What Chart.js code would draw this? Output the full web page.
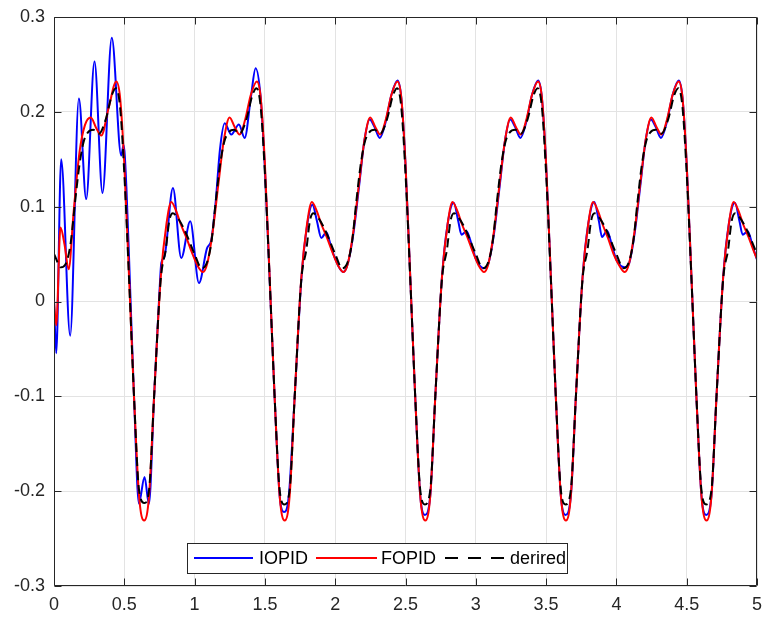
<!DOCTYPE html>
<html><head><meta charset="utf-8">
<script src="https://cdn.jsdelivr.net/npm/chart.js@4.4.1/dist/chart.umd.min.js"></script>
<style>html,body{margin:0;padding:0;background:#fff;}canvas{display:block;}</style>
</head><body>
<canvas id="c" width="764" height="619"></canvas>
<script>
const xTickValues = [0,0.5,1,1.5,2,2.5,3,3.5,4,4.5,5];
const xTickLabels = ['0','0.5','1','1.5','2','2.5','3','3.5','4','4.5','5'];
const yTickValues = [-0.3,-0.2,-0.1,0,0.1,0.2,0.3];
const yTickLabels = ['-0.3','-0.2','-0.1','0','0.1','0.2','0.3'];
const seriesNames = ['IOPID','FOPID','derired'];

// IOPID (blue)
const iopidX = [0,0.016,0.051,0.115,0.177,0.229,0.288,0.345,0.411,0.478,0.495,0.515,0.54,0.569,0.604,0.644,0.675,0.712,0.75,0.763,0.786,0.846,0.905,0.969,1.031,1.088,1.119,1.15,1.18,1.214,1.261,1.315,1.356,1.40,1.434,1.47,1.50,1.534,1.569,1.605,1.635,1.67,1.712,1.759,1.80,1.838,1.87,1.901,1.937,1.97,2.00,2.056,
 2.09,2.13,2.17,2.21,2.245,2.28,2.317,2.36,2.40,2.443,2.47,2.50,2.534,2.569,2.605,2.638,2.676,2.712,2.759,2.80,2.843,2.875,2.898,2.934,2.97,3.00,3.06,
 3.09,3.13,3.17,3.21,3.245,3.28,3.317,3.36,3.40,3.443,3.47,3.50,3.534,3.569,3.605,3.638,3.676,3.712,3.759,3.80,3.843,3.875,3.898,3.934,3.97,4.00,4.06,
 4.09,4.13,4.17,4.21,4.245,4.28,4.317,4.36,4.40,4.443,4.47,4.50,4.534,4.569,4.605,4.638,4.676,4.712,4.759,4.80,4.843,4.875,4.898,4.934,4.97,5.00];
const iopidY = [0,-0.0545,0.150,-0.036,0.214,0.108,0.253,0.1145,0.278,0.154,0.165,0.12,0.02,-0.100,-0.213,-0.185,-0.2135,-0.100,0.010,0.0405,0.0475,0.1197,0.0458,0.0845,0.0194,0.056,0.065,0.105,0.160,0.188,0.176,0.1866,0.1725,0.215,0.246,0.215,0.14,0.023,-0.100,-0.205,-0.222,-0.205,-0.100,0.023,0.080,0.102,0.085,0.067,0.073,0.058,0.045,0.031,
 0.040,0.072,0.122,0.172,0.192,0.184,0.1725,0.190,0.218,0.233,0.215,0.145,0.025,-0.100,-0.205,-0.225,-0.205,-0.100,0.025,0.082,0.104,0.085,0.0705,0.074,0.060,0.045,0.035,
 0.040,0.072,0.122,0.172,0.192,0.184,0.1725,0.190,0.218,0.233,0.215,0.145,0.025,-0.100,-0.205,-0.225,-0.205,-0.100,0.025,0.082,0.105,0.085,0.068,0.0747,0.058,0.044,0.036,
 0.040,0.072,0.122,0.172,0.192,0.184,0.1725,0.190,0.218,0.233,0.215,0.145,0.025,-0.100,-0.205,-0.225,-0.205,-0.100,0.025,0.082,0.104,0.085,0.0705,0.074,0.058,0.044];

// FOPID (red)
const fopidX = [0,0.016,0.046,0.075,0.104,0.14,0.181,0.22,0.262,0.30,0.336,0.39,0.443,0.47,0.50,0.534,0.569,0.605,0.641,0.676,0.712,0.759,0.80,0.834,0.87,0.90,0.94,0.98,
 1.02,1.059,1.09,1.13,1.17,1.21,1.249,1.285,1.32,1.36,1.40,1.443,1.47,1.50,1.534,1.569,1.605,1.641,1.676,1.712,1.759,1.80,1.834,1.87,1.90,1.94,1.98,
 2.02,2.059,2.09,2.13,2.17,2.21,2.249,2.285,2.32,2.36,2.40,2.443,2.47,2.50,2.534,2.569,2.605,2.641,2.676,2.712,2.759,2.80,2.834,2.87,2.90,2.94,2.98,
 3.02,3.059,3.09,3.13,3.17,3.21,3.249,3.285,3.32,3.36,3.40,3.443,3.47,3.50,3.534,3.569,3.605,3.641,3.676,3.712,3.759,3.80,3.834,3.87,3.90,3.94,3.98,
 4.02,4.059,4.09,4.13,4.17,4.21,4.249,4.285,4.32,4.36,4.40,4.443,4.47,4.50,4.534,4.569,4.605,4.641,4.676,4.712,4.759,4.80,4.834,4.87,4.90,4.94,4.98,5.00];
const fopidY = [0,-0.025,0.078,0.060,0.034,0.095,0.157,0.186,0.194,0.183,0.175,0.205,0.232,0.215,0.145,0.025,-0.100,-0.205,-0.231,-0.205,-0.100,0.025,0.082,0.105,0.095,0.082,0.068,0.052,
 0.038,0.031,0.040,0.075,0.125,0.172,0.194,0.184,0.176,0.192,0.218,0.232,0.215,0.145,0.025,-0.100,-0.205,-0.231,-0.205,-0.100,0.025,0.082,0.105,0.095,0.082,0.068,0.052,
 0.038,0.031,0.040,0.075,0.125,0.172,0.194,0.184,0.176,0.192,0.218,0.232,0.215,0.145,0.025,-0.100,-0.205,-0.231,-0.205,-0.100,0.025,0.082,0.105,0.095,0.082,0.068,0.052,
 0.038,0.031,0.040,0.075,0.125,0.172,0.194,0.184,0.176,0.192,0.218,0.232,0.215,0.145,0.025,-0.100,-0.205,-0.231,-0.205,-0.100,0.025,0.082,0.105,0.095,0.082,0.067,0.050,
 0.038,0.031,0.040,0.075,0.125,0.172,0.194,0.184,0.176,0.192,0.218,0.232,0.215,0.145,0.025,-0.100,-0.205,-0.231,-0.205,-0.100,0.025,0.082,0.105,0.095,0.082,0.068,0.052,0.045];

// derired (black dashed)
const desiredX = [0,0.05,0.09,0.12,0.15,0.18,0.21,0.24,0.28,0.32,0.37,0.41,0.44,0.47,0.50,0.534,0.569,0.605,0.643,0.676,0.712,0.759,0.795,0.82,0.845,0.88,0.92,0.95,
 1,1.05,1.09,1.12,1.15,1.18,1.21,1.24,1.28,1.32,1.37,1.41,1.44,1.47,1.50,1.534,1.569,1.605,1.638,1.676,1.712,1.759,1.795,1.82,1.845,1.88,1.92,1.95,
 2,2.05,2.09,2.12,2.15,2.18,2.21,2.24,2.28,2.32,2.37,2.41,2.44,2.47,2.50,2.534,2.569,2.605,2.638,2.676,2.712,2.759,2.795,2.82,2.845,2.88,2.92,2.95,
 3,3.05,3.09,3.12,3.15,3.18,3.21,3.24,3.28,3.32,3.37,3.41,3.44,3.47,3.50,3.534,3.569,3.605,3.638,3.676,3.712,3.759,3.795,3.82,3.845,3.88,3.92,3.95,
 4,4.05,4.09,4.12,4.15,4.18,4.21,4.24,4.28,4.32,4.37,4.41,4.44,4.47,4.50,4.534,4.569,4.605,4.638,4.676,4.712,4.759,4.795,4.82,4.845,4.88,4.92,4.95,5];
const desiredY = [0.050,0.036,0.042,0.063,0.105,0.143,0.168,0.178,0.181,0.177,0.193,0.217,0.225,0.205,0.135,0.023,-0.100,-0.199,-0.2125,-0.199,-0.100,0.023,0.055,0.085,0.093,0.088,0.078,0.068,
 0.050,0.035,0.042,0.063,0.105,0.143,0.168,0.178,0.181,0.177,0.193,0.217,0.225,0.205,0.135,0.023,-0.100,-0.199,-0.214,-0.199,-0.100,0.023,0.055,0.085,0.093,0.088,0.078,0.068,
 0.050,0.035,0.042,0.063,0.105,0.143,0.168,0.178,0.181,0.177,0.193,0.217,0.225,0.205,0.135,0.023,-0.100,-0.199,-0.214,-0.199,-0.100,0.023,0.055,0.085,0.093,0.088,0.078,0.068,
 0.050,0.035,0.042,0.063,0.105,0.143,0.168,0.178,0.181,0.177,0.193,0.217,0.225,0.205,0.135,0.023,-0.100,-0.199,-0.214,-0.199,-0.100,0.023,0.055,0.085,0.093,0.088,0.078,0.068,
 0.050,0.035,0.042,0.063,0.105,0.143,0.168,0.178,0.181,0.177,0.193,0.217,0.225,0.205,0.135,0.023,-0.100,-0.199,-0.214,-0.199,-0.100,0.023,0.055,0.085,0.093,0.088,0.078,0.068,0.050];

function pts(xs, ys){ return xs.map((x,i)=>({x:x, y:ys[i]})); }

const FONT = "'Liberation Sans', Arial, Helvetica, sans-serif";
const AXIS = '#262626';

const framePlugin = {
  id: 'frameAndLegend',
  afterDatasetsDraw(chart){
    const ctx = chart.ctx, a = chart.chartArea, xs = chart.scales.x, ys = chart.scales.y;
    const L = Math.floor(a.left)+0.5, R = Math.ceil(a.right)-0.5, T = Math.floor(a.top)+0.5, B = Math.ceil(a.bottom)-0.5;
    ctx.save();
    ctx.strokeStyle = AXIS; ctx.lineWidth = 1; ctx.setLineDash([]);
    ctx.beginPath();
    ctx.rect(L, T, R-L, B-T);
    const tl = 7;
    xTickValues.forEach(v=>{
      const p = Math.round(xs.getPixelForValue(v))+0.5;
      ctx.moveTo(p, B); ctx.lineTo(p, B-tl);
      ctx.moveTo(p, T); ctx.lineTo(p, T+tl);
    });
    yTickValues.forEach(v=>{
      const p = Math.round(ys.getPixelForValue(v))+0.5;
      ctx.moveTo(L, p); ctx.lineTo(L+tl, p);
      ctx.moveTo(R, p); ctx.lineTo(R-tl, p);
    });
    ctx.stroke();

    // legend
    const bx = 187.5, by = 543.5, bw = 380, bh = 30, cy = 558;
    ctx.fillStyle = '#ffffff';
    ctx.fillRect(bx, by, bw, bh);
    ctx.strokeStyle = AXIS; ctx.lineWidth = 1;
    ctx.strokeRect(bx, by, bw, bh);
    const items = [
      {x0:194, x1:253, tx:259, ds:chart.data.datasets[0]},
      {x0:316, x1:377, tx:381, ds:chart.data.datasets[1]},
      {x0:445, x1:505, tx:510, ds:chart.data.datasets[2]}
    ];
    ctx.font = '18px ' + FONT;
    ctx.textBaseline = 'middle';
    ctx.textAlign = 'left';
    items.forEach((it,i)=>{
      ctx.beginPath();
      ctx.strokeStyle = it.ds.borderColor;
      ctx.lineWidth = 2;
      ctx.setLineDash(i===2 ? [13,10] : []);
      ctx.moveTo(it.x0, cy); ctx.lineTo(it.x1, cy);
      ctx.stroke();
      ctx.setLineDash([]);
      ctx.fillStyle = '#000000';
      ctx.fillText(seriesNames[i], it.tx, cy+1);
    });
    ctx.restore();
  }
};

const tickFont = {family: FONT, size: 18};

new Chart(document.getElementById('c'), {
  type: 'line',
  data: {
    datasets: [
      {label: seriesNames[0], data: pts(iopidX, iopidY), borderColor: '#0000ff', borderWidth: 2, pointRadius: 0, cubicInterpolationMode: 'monotone', fill: false, order: 3},
      {label: seriesNames[1], data: pts(fopidX, fopidY), borderColor: '#ff0000', borderWidth: 2, pointRadius: 0, cubicInterpolationMode: 'monotone', fill: false, order: 2},
      {label: seriesNames[2], data: pts(desiredX, desiredY), borderColor: '#000000', borderWidth: 2, borderDash: [9,5], pointRadius: 0, cubicInterpolationMode: 'monotone', fill: false, order: 1}
    ]
  },
  options: {
    responsive: false,
    animation: false,
    devicePixelRatio: 1,
    layout: {padding: {left: 0, right: 7, top: 17, bottom: 0}},
    plugins: {legend: {display: false}, tooltip: {enabled: false}},
    scales: {
      x: {
        type: 'linear', min: 0, max: 5,
        afterBuildTicks: s => { s.ticks = xTickValues.map(v => ({value: v})); },
        afterFit: s => { s.height = 33; s.paddingLeft = 0; s.paddingRight = 0; },
        ticks: {callback: (v, i) => xTickLabels[i], font: tickFont, color: AXIS, padding: 8, maxRotation: 0, autoSkip: false},
        grid: {color: '#e3e3e3', lineWidth: 1, drawTicks: false},
        border: {display: false}
      },
      y: {
        type: 'linear', min: -0.3, max: 0.3,
        afterBuildTicks: s => { s.ticks = yTickValues.map(v => ({value: v})); },
        afterFit: s => { s.width = 54; s.paddingTop = 0; s.paddingBottom = 0; },
        ticks: {callback: (v, i) => yTickLabels[i], font: tickFont, color: AXIS, padding: 9, autoSkip: false},
        grid: {color: '#e3e3e3', lineWidth: 1, drawTicks: false},
        border: {display: false}
      }
    }
  },
  plugins: [framePlugin]
});
</script>
</body></html>
